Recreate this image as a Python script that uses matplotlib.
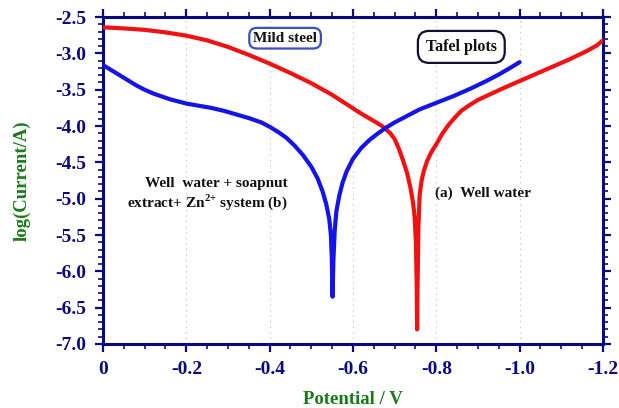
import matplotlib
matplotlib.use("Agg")
import matplotlib.pyplot as plt
from matplotlib.ticker import MultipleLocator, FixedLocator, FixedFormatter

plt.rcParams['font.family'] = ['Liberation Serif', 'DejaVu Serif']
plt.rcParams['mathtext.fontset'] = 'custom'
plt.rcParams['mathtext.rm'] = 'Liberation Serif'
plt.rcParams['mathtext.bf'] = 'Liberation Serif:bold'

# ---- data ----
red_potential = [0.000, -0.050, -0.100, -0.150, -0.200, -0.250, -0.300, -0.350, -0.400, -0.450,
                 -0.500, -0.550, -0.593, -0.620, -0.650, -0.670, -0.690, -0.700, -0.710, -0.720,
                 -0.730, -0.738, -0.744, -0.748, -0.751, -0.753, -0.754, -0.755, -0.757, -0.760,
                 -0.765, -0.771, -0.778, -0.788, -0.800, -0.815, -0.830, -0.845, -0.860, -0.880,
                 -0.900, -0.930, -0.960, -1.000, -1.040, -1.080, -1.120, -1.160, -1.185, -1.200]
red_logI = [-2.64, -2.655, -2.675, -2.71, -2.755, -2.82, -2.91, -3.02, -3.14, -3.27,
            -3.41, -3.57, -3.73, -3.83, -3.93, -4.00, -4.10, -4.18, -4.31, -4.47,
            -4.65, -4.85, -5.05, -5.25, -5.60, -6.20, -6.80, -6.20, -5.40, -4.95,
            -4.74, -4.60, -4.48, -4.36, -4.25, -4.10, -3.98, -3.88, -3.79, -3.71,
            -3.64, -3.56, -3.48, -3.38, -3.28, -3.18, -3.08, -2.97, -2.89, -2.82]

blue_potential = [0.000, -0.020, -0.040, -0.060, -0.080, -0.100, -0.120, -0.140, -0.160, -0.180,
                  -0.200, -0.230, -0.260, -0.290, -0.320, -0.350, -0.380, -0.400, -0.420, -0.440,
                  -0.460, -0.480, -0.500, -0.515, -0.527, -0.536, -0.543, -0.547, -0.549, -0.551,
                  -0.553, -0.556, -0.560, -0.567, -0.575, -0.585, -0.600, -0.620, -0.640, -0.660,
                  -0.680, -0.700, -0.730, -0.760, -0.800, -0.840, -0.880, -0.920, -0.950, -0.980,
                  -1.000]
blue_logI = [-3.16, -3.23, -3.30, -3.37, -3.44, -3.50, -3.55, -3.59, -3.63, -3.66,
             -3.69, -3.72, -3.75, -3.79, -3.84, -3.89, -3.95, -4.01, -4.08, -4.16,
             -4.27, -4.40, -4.56, -4.72, -4.90, -5.08, -5.28, -5.50, -5.80, -6.35,
             -5.85, -5.45, -5.18, -4.96, -4.78, -4.62, -4.45, -4.30, -4.19, -4.10,
             -4.02, -3.95, -3.86, -3.77, -3.68, -3.59, -3.49, -3.38, -3.29, -3.19,
             -3.12]

x_ticks = [0, -0.2, -0.4, -0.6, -0.8, -1.0, -1.2]
x_tick_labels = ['0', '-0.2', '-0.4', '-0.6', '-0.8', '-1.0', '-1.2']
y_ticks = [-2.5, -3.0, -3.5, -4.0, -4.5, -5.0, -5.5, -6.0, -6.5, -7.0]
y_tick_labels = ['-2.5', '-3.0', '-3.5', '-4.0', '-4.5', '-5.0', '-5.5', '-6.0', '-6.5', '-7.0']

navy = '#0a0a80'
green = '#1a7a1a'

fig = plt.figure(figsize=(6.19, 4.08), dpi=100)
ax = fig.add_axes([0.1664, 0.157, 0.8077, 0.801])

ax.plot(red_potential, red_logI, color='#f01212', lw=3.0, solid_joinstyle='round',
        solid_capstyle='round', zorder=3)
ax.plot(blue_potential, blue_logI, color='#1414e6', lw=3.0, solid_joinstyle='round',
        solid_capstyle='round', zorder=3)

ax.set_xlim(0, -1.2)
ax.set_ylim(-7.0, -2.5)

for xv in x_ticks[1:-1]:
    ax.axvline(xv, color='#bbbbbb', lw=0.8, ls=(0, (1, 4)), zorder=1)

ax.xaxis.set_major_locator(FixedLocator(x_ticks))
ax.xaxis.set_major_formatter(FixedFormatter(x_tick_labels))
ax.xaxis.set_minor_locator(MultipleLocator(0.05))
ax.yaxis.set_major_locator(FixedLocator(y_ticks))
ax.yaxis.set_major_formatter(FixedFormatter(y_tick_labels))
ax.yaxis.set_minor_locator(MultipleLocator(0.1))

ax.tick_params(which='both', direction='out', color=navy, top=True, right=True,
               labeltop=False, labelright=False)
ax.tick_params(which='major', length=6, width=1.6)
ax.tick_params(which='minor', length=3.5, width=1.2)
ax.tick_params(axis='both', labelsize=14, labelcolor=navy, pad=6)
for lab in ax.get_xticklabels() + ax.get_yticklabels():
    lab.set_fontweight('bold')

for sp in ax.spines.values():
    sp.set_color(navy)
    sp.set_linewidth(2.2)

ax.set_xlabel('Potential / V', color=green, fontsize=13.5, fontweight='bold', labelpad=9.5)
ax.set_ylabel('log(Current/A)', color=green, fontsize=13.5, fontweight='bold', labelpad=18)

ax.text(-0.437, -2.79, 'Mild steel', fontsize=11, fontweight='bold', color='#111111',
        ha='center', va='center',
        bbox=dict(boxstyle='round,pad=0.25,rounding_size=0.5', fc='white', ec='#3a4fc0', lw=1.6))
ax.text(-0.860, -2.91, 'Tafel plots', fontsize=11.5, fontweight='bold', color='#111111',
        ha='center', va='center',
        bbox=dict(boxstyle='round,pad=0.5,rounding_size=0.7', fc='white', ec='#101030', lw=1.6))
ax.text(-0.102, -4.79, 'Well  water + soapnut', fontsize=11, fontweight='bold',
        color='#111111', ha='left', va='center')
ax.text(-0.058, -5.05, r'extract+ Zn$^{\mathbf{2{+}}}$ system (b)', fontsize=11,
        fontweight='bold', color='#111111', ha='left', va='center')
ax.text(-0.797, -4.93, '(a)  Well water', fontsize=11, fontweight='bold',
        color='#111111', ha='left', va='center')

fig.savefig('out.png', dpi=100)
